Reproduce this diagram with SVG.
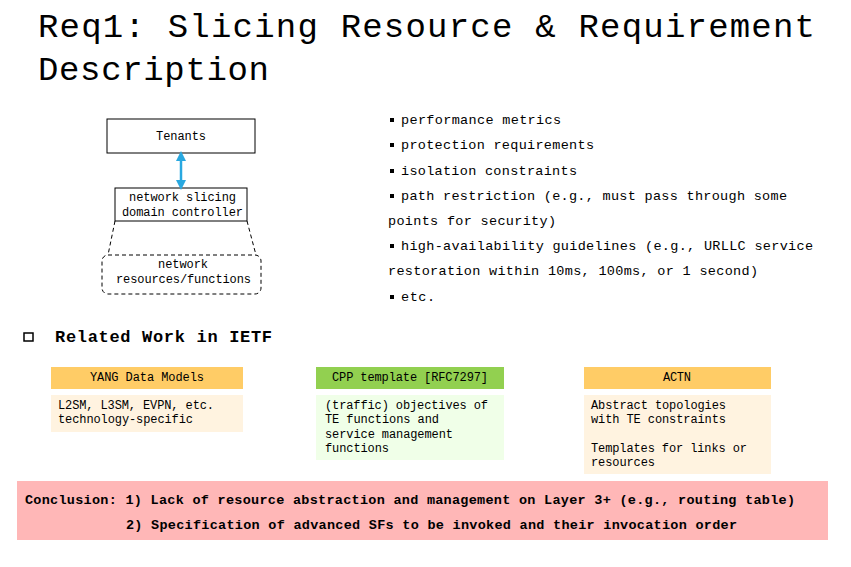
<svg xmlns="http://www.w3.org/2000/svg" width="851" height="567" viewBox="0 0 851 567" font-family="'Liberation Mono', 'DejaVu Sans Mono', monospace">
<style>
text{font-family:'Liberation Mono','DejaVu Sans Mono',monospace;fill:#000}
.t{font-size:34px}
.b{font-size:13.5px}
.s{font-size:12px}
.n{fill:#fff;stroke:#000;stroke-width:1}
.d{fill:none;stroke:#000;stroke-dasharray:4,3}
.c{font-size:13.5px;font-weight:bold}
</style>
<defs>
<marker id="ah" viewBox="0 0 10 10" refX="5" refY="5" markerWidth="4" markerHeight="4" orient="auto-start-reverse"><path d="M0,0L10,5L0,10z" fill="#29a8e0"/></marker>
</defs>
<rect width="851" height="567" fill="#fff"/>
<text class="t" x="38" y="37" textLength="777" lengthAdjust="spacing">Req1: Slicing Resource &amp; Requirement</text>
<text class="t" x="38" y="80" textLength="231" lengthAdjust="spacing">Description</text>
<g id="tenants"><rect class="n" x="107" y="119" width="148" height="34"/><text class="s" x="156" y="140" textLength="50">Tenants</text></g>
<g id="controller"><rect class="n" x="115" y="188" width="132" height="33"/><text class="s" x="129" y="201" textLength="107">network slicing</text><text class="s" x="122" y="216" textLength="121">domain controller</text></g>
<g id="resources"><rect class="d" x="102" y="255" width="159" height="39" rx="6"/><text class="s" x="158" y="268" textLength="50">network</text><text class="s" x="116" y="283" textLength="135">resources/functions</text></g>
<g id="connectors">
<line x1="181" y1="156" x2="181" y2="185" stroke="#29a8e0" stroke-width="2.5" marker-start="url(#ah)" marker-end="url(#ah)"/>
<path class="d" d="M115,221L108,255M247,221L256,255"/>
</g>
<g>
<rect x="390" y="118" width="4" height="4"/><text class="b" x="401" y="124" textLength="160">performance metrics</text>
<rect x="390" y="143" width="4" height="4"/><text class="b" x="401" y="149" textLength="193">protection requirements</text>
<rect x="390" y="169" width="4" height="4"/><text class="b" x="401" y="175" textLength="176">isolation constraints</text>
<rect x="390" y="194" width="4" height="4"/><text class="b" x="401" y="200" textLength="386">path restriction (e.g., must pass through some</text>
<text class="b" x="388" y="225" textLength="168">points for security)</text>
<rect x="390" y="244" width="4" height="4"/><text class="b" x="401" y="250" textLength="412">high-availability guidelines (e.g., URLLC service</text>
<text class="b" x="388" y="275" textLength="370">restoration within 10ms, 100ms, or 1 second)</text>
<rect x="390" y="295" width="4" height="4"/><text class="b" x="401" y="301" textLength="34">etc.</text>
</g>
<rect x="24" y="333" width="9" height="8" fill="none" stroke="#000" stroke-width="1.5"/>
<text x="55" y="342" style="font-size:17px;font-weight:bold" textLength="217">Related Work in IETF</text>
<g id="yang"><rect x="51" y="367" width="192" height="22" fill="#ffcc66"/><text class="s" x="90" y="381" textLength="114">YANG Data Models</text>
<rect x="51" y="395" width="192" height="37" fill="#fff3e0"/><text class="s" x="58" y="409" textLength="156">L2SM, L3SM, EVPN, etc.</text><text class="s" x="58" y="423" textLength="135">technology-specific</text></g>
<g id="cpp"><rect x="316" y="367" width="188" height="22" fill="#92d050"/><text class="s" x="332" y="381" textLength="156">CPP template [RFC7297]</text>
<rect x="316" y="395" width="188" height="65" fill="#f0ffe8"/><text class="s" x="325" y="409" textLength="163">(traffic) objectives of</text><text class="s" x="325" y="423" textLength="114">TE functions and</text><text class="s" x="325" y="438" textLength="128">service management</text><text class="s" x="325" y="452" textLength="64">functions</text></g>
<g id="actn"><rect x="584" y="367" width="187" height="22" fill="#ffcc66"/><text class="s" x="663" y="381" textLength="28">ACTN</text>
<rect x="584" y="395" width="187" height="79" fill="#fff3e0"/><text class="s" x="591" y="409" textLength="135">Abstract topologies</text><text class="s" x="591" y="423" textLength="135">with TE constraints</text><text class="s" x="591" y="452" textLength="156">Templates for links or</text><text class="s" x="591" y="466" textLength="64">resources</text></g>
<g id="conclusion"><rect x="17" y="481" width="811" height="59" fill="#ffb7b7"/>
<text class="c" x="25" y="504" textLength="770">Conclusion: 1) Lack of resource abstraction and management on Layer 3+ (e.g., routing table)</text>
<text class="c" x="126" y="529" textLength="611">2) Specification of advanced SFs to be invoked and their invocation order</text></g>
</svg>
